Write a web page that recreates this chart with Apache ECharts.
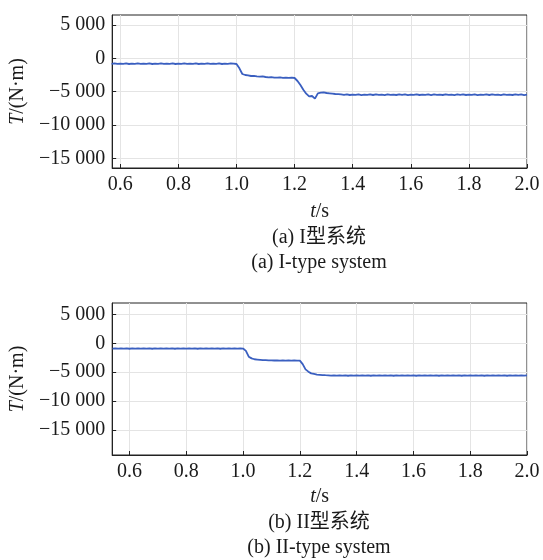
<!DOCTYPE html>
<html><head><meta charset="utf-8">
<script src="https://cdn.jsdelivr.net/npm/echarts@6/dist/echarts.min.js"></script>
<style>html,body{margin:0;padding:0;background:#fff}#c{width:543px;height:560px}</style>
</head><body><div id="c"></div>
<script>
// time samples (s)
const tTop = [0.57,0.58,0.59,
0.60,0.61,0.62,0.63,0.64,0.65,0.66,0.67,0.68,0.69,
0.70,0.71,0.72,0.73,0.74,0.75,0.76,0.77,0.78,0.79,
0.80,0.81,0.82,0.83,0.84,0.85,0.86,0.87,0.88,0.89,
0.90,0.91,0.92,0.93,0.94,0.95,0.96,0.97,0.98,0.99,
1.00,1.01,1.02,1.03,1.04,1.05,1.06,1.07,1.08,1.09,
1.10,1.11,1.12,1.13,1.14,1.15,1.16,1.17,1.18,1.19,
1.20,1.21,1.22,1.23,1.24,1.25,1.26,1.27,1.28,1.29,
1.30,1.31,1.32,1.33,1.34,1.35,1.36,1.37,1.38,1.39,
1.40,1.41,1.42,1.43,1.44,1.45,1.46,1.47,1.48,1.49,
1.50,1.51,1.52,1.53,1.54,1.55,1.56,1.57,1.58,1.59,
1.60,1.61,1.62,1.63,1.64,1.65,1.66,1.67,1.68,1.69,
1.70,1.71,1.72,1.73,1.74,1.75,1.76,1.77,1.78,1.79,
1.80,1.81,1.82,1.83,1.84,1.85,1.86,1.87,1.88,1.89,
1.90,1.91,1.92,1.93,1.94,1.95,1.96,1.97,1.98,1.99,
2.00];
const tBottom = [0.54,0.55,0.56].concat(tTop);

// torque, I-type system (N·m)
const torqueI = [
-820,-760,-840,-780,-830,-770,-850,-790,-820,-760,
-840,-780,-830,-770,-850,-790,-820,-760,-840,-780,
-830,-770,-850,-790,-820,-760,-840,-780,-830,-770,
-850,-790,-820,-760,-840,-780,-830,-770,-850,-790,
-820,-760,-800,
-850,-1500,-2350,-2500,-2550,-2650,-2620,-2700,-2750,-2720,
-2800,-2850,-2820,-2880,-2900,-2860,-2920,-2880,-2930,-2890,
-2950,-3400,-4000,-4700,-5300,-5700,-5650,-6050,-5250,-5150,
-5100,-5200,-5250,-5300,-5350,-5380,
-5420,-5480,-5410,-5500,-5430,-5490,-5400,-5510,-5440,-5480,
-5420,-5500,-5410,-5490,-5430,-5510,-5400,-5480,-5440,-5500,
-5420,-5490,-5410,-5510,-5430,-5480,-5400,-5500,-5440,-5490,
-5420,-5510,-5410,-5480,-5430,-5500,-5400,-5490,-5440,-5510,
-5420,-5480,-5410,-5500,-5430,-5490,-5400,-5510,-5440,-5480,
-5420,-5500,-5410,-5490,-5430,-5510,-5400,-5480,-5440,-5500,
-5420,-5490,-5410,-5510,-5450];

// torque, II-type system (N·m)
const torqueII = [
-900,-850,-920,-860,-910,-850,-930,-870,-900,-850,
-920,-860,-910,-850,-930,-870,-900,-850,-920,-860,
-910,-850,-930,-870,-900,-850,-920,-860,-910,-850,
-930,-870,-900,-850,-920,-860,-910,-850,-930,-870,
-900,-850,-920,-860,-910,-880,
-900,-1300,-2300,-2600,-2750,-2800,-2850,-2900,-2920,-2950,
-2930,-2970,-2940,-2980,-2950,-2990,-2960,-2980,-2950,-2990,
-3000,-3600,-4500,-4900,-5200,-5300,-5400,-5450,-5500,-5520,
-5530,-5590,-5540,-5600,-5550,-5580,-5530,-5610,-5540,-5590,
-5550,-5600,-5530,-5580,-5540,-5610,-5550,-5590,-5530,-5600,
-5540,-5580,-5550,-5610,-5530,-5590,-5540,-5600,-5550,-5580,
-5530,-5610,-5540,-5590,-5550,-5600,-5530,-5580,-5540,-5610,
-5550,-5590,-5530,-5600,-5540,-5580,-5550,-5610,-5530,-5590,
-5540,-5600,-5550,-5580,-5530,-5610,-5540,-5590,-5550,-5600,
-5530,-5580,-5540,-5610,-5550,-5590,-5530,-5600,-5540,-5580,
-5560];

const xTicks = [0.6,0.8,1.0,1.2,1.4,1.6,1.8,2.0];
const yTicks = [5000,0,-5000,-10000,-15000];
const yAxisTitle = '{i|T}/(N·m)';
const xAxisTitle = '{i|t}/s';
const captionsTop = ['(a) I型系统','(a) I-type system'];
const captionsBottom = ['(b) II型系统','(b) II-type system'];

const FONT = "'Liberation Serif','Times New Roman','Noto Sans CJK SC',serif";
const TXT = '#1a1a1a';
const FS = 20;
function fmtY(v){
  const s = Math.abs(v).toString().replace(/\B(?=(\d{3})+(?!\d))/g,' ');
  return (v<0?'\u2212':'') + s;
}
function fmtX(v){ return v.toFixed(1); }

function xAxis(gi, min, gap){
  return {
    type:'value', gridIndex:gi, min:min, max:2.0,
    name:xAxisTitle, nameLocation:'middle', nameGap:gap,
    nameTextStyle:{fontFamily:FONT,fontSize:FS,color:TXT,
      rich:{i:{fontStyle:'italic',fontFamily:FONT,fontSize:FS,color:TXT}}},
    axisLine:{show:true,onZero:false,lineStyle:{color:'#222',width:1}},
    axisTick:{show:true,inside:true,length:4,customValues:xTicks,lineStyle:{color:'#222'}},
    axisLabel:{customValues:xTicks,formatter:fmtX,fontFamily:FONT,fontSize:FS,color:TXT,margin:7},
    splitLine:{show:true,lineStyle:{color:'#e4e4e4',width:1}}
  };
}
function yAxis(gi, min, max){
  return {
    type:'value', gridIndex:gi, min:min, max:max,
    name:yAxisTitle, nameLocation:'middle', nameGap:84, nameRotate:90,
    nameTextStyle:{fontFamily:FONT,fontSize:FS,color:TXT,
      rich:{i:{fontStyle:'italic',fontFamily:FONT,fontSize:FS,color:TXT}}},
    axisLine:{show:true,onZero:false,lineStyle:{color:'#222',width:1}},
    axisTick:{show:true,inside:true,length:4,customValues:yTicks,lineStyle:{color:'#222'}},
    axisLabel:{customValues:yTicks,formatter:fmtY,fontFamily:FONT,fontSize:FS,color:TXT,margin:7},
    splitLine:{show:true,lineStyle:{color:'#e4e4e4',width:1}}
  };
}
function pairs(t, v){ return t.map((x,i)=>[x, v[i]]); }

const chart = echarts.init(document.getElementById('c'), null, {renderer:'canvas'});
const cx = 319;
const capFont = FS + "px " + FONT;
chart.setOption({
  animation:false,
  backgroundColor:'#fff',
  grid:[
    {left:111, right:16, top:15, height:153, show:true, borderColor:'#222', borderWidth:1, backgroundColor:'transparent'},
    {left:111, right:16, top:303, height:152, show:true, borderColor:'#222', borderWidth:1, backgroundColor:'transparent'}
  ],
  xAxis:[xAxis(0,0.572,34), xAxis(1,0.539,32)],
  yAxis:[yAxis(0,-16450,6500), yAxis(1,-19350,7000)],
  series:[
    {type:'line', xAxisIndex:0, yAxisIndex:0, data:pairs(tTop,torqueI), showSymbol:false,
     lineStyle:{color:'#3a5fc0',width:1.8}, itemStyle:{color:'#3a5fc0'}},
    {type:'line', xAxisIndex:1, yAxisIndex:1, data:pairs(tBottom,torqueII), showSymbol:false,
     lineStyle:{color:'#3a5fc0',width:1.8}, itemStyle:{color:'#3a5fc0'}}
  ],
  graphic:[
    {type:'text', x:cx, y:238, style:{text:captionsTop[0], font:capFont, fill:TXT, textAlign:'center', textVerticalAlign:'middle'}},
    {type:'text', x:cx, y:263, style:{text:captionsTop[1], font:capFont, fill:TXT, textAlign:'center', textVerticalAlign:'middle'}},
    {type:'text', x:cx, y:523, style:{text:captionsBottom[0], font:capFont, fill:TXT, textAlign:'center', textVerticalAlign:'middle'}},
    {type:'text', x:cx, y:548, style:{text:captionsBottom[1], font:capFont, fill:TXT, textAlign:'center', textVerticalAlign:'middle'}}
  ]
});
</script></body></html>
